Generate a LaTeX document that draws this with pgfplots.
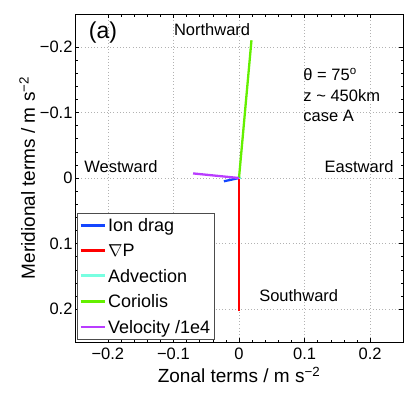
\documentclass[border=0pt]{standalone}
\usepackage{pgfplots}
\pgfplotsset{compat=1.18}
\usepackage{fontspec}
\setmainfont{Liberation Sans}
\definecolor{cIon}{RGB}{20,70,255}
\definecolor{cP}{RGB}{255,0,0}
\definecolor{cAdv}{RGB}{120,255,225}
\definecolor{cCor}{RGB}{100,240,0}
\definecolor{cVel}{RGB}{185,60,255}
\begin{document}
\begin{tikzpicture}
\useasboundingbox (-75pt,-50pt) rectangle (336pt,342pt);
\begin{axis}[
  at={(0pt,0pt)}, anchor=south west,
  scale only axis, width=328pt, height=328pt,
  xmin=-0.25, xmax=0.25, ymin=-0.25, ymax=0.25, y dir=reverse,
  xtick={-0.2,-0.1,0,0.1,0.2}, xticklabels={−0.2,−0.1,0,0.1,0.2},
  ytick={-0.2,-0.1,0,0.1,0.2}, yticklabels={−0.2,−0.1,0,0.1,0.2},
  minor tick num=4,
  grid=major, major grid style={dash pattern=on 1pt off 2.2pt, gray!60, line width=0.5pt},
  tick align=inside, tick style={black, line width=0.5pt},
  major tick length=4pt, minor tick length=2.5pt,
  axis line style={line width=0.7pt},
  ticklabel style={font=\fontsize{16.5}{18}\selectfont},
  yticklabel style={xshift=1pt},
  xticklabel style={yshift=-2pt},
  xlabel={Zonal terms / m s\textsuperscript{−2}},
  ylabel={Meridional terms / m s\textsuperscript{−2}},
  label style={font=\fontsize{19}{21}\selectfont},
  xlabel style={yshift=-1pt},
  ylabel style={yshift=-2pt},
  legend cell align=left,
  legend style={at={(rel axis cs:0.006,0.006)}, anchor=south west,
    font=\fontsize{18}{19}\selectfont, draw=black!70, line width=0.7pt,
    row sep=7pt, inner xsep=2pt, inner ysep=3pt},
  legend image code/.code={\draw[#1, line width=2.8pt] (0pt,0.5pt) -- (24pt,0.5pt);},
  every axis plot/.append style={line width=2.3pt},
]
\addplot[cIon] coordinates {(0,0) (-0.023,0.005)};
\addlegendentry{Ion drag}
\addplot[cP] coordinates {(0,0) (0,0.203)};
\addlegendentry{$\nabla$P}
\addplot[cAdv] coordinates {(0,0) (0.003,0.0)};
\addlegendentry{Advection}
\addplot[cCor] coordinates {(0,0) (0.019,-0.21)};
\addlegendentry{Coriolis}
\addplot[cVel] coordinates {(0,0) (-0.07,-0.007)};
\addlegendentry{Velocity /1e4}
\node[font=\fontsize{23}{25}\selectfont, anchor=west, inner sep=0pt] at (axis cs:-0.229,-0.222) {(a)};
\node[font=\fontsize{16.5}{18}\selectfont] at (axis cs:-0.041,-0.226) {Northward};
\node[font=\fontsize{16.5}{18}\selectfont] at (axis cs:-0.18,-0.018) {Westward};
\node[font=\fontsize{16.5}{18}\selectfont] at (axis cs:0.183,-0.018) {Eastward};
\node[font=\fontsize{16.5}{18}\selectfont] at (axis cs:0.091,0.18) {Southward};
\node[font=\fontsize{16.5}{18}\selectfont, anchor=west, inner sep=0pt] at (axis cs:0.098,-0.158) {θ = 75\textsuperscript{o}};
\node[font=\fontsize{16.5}{18}\selectfont, anchor=west, inner sep=0pt] at (axis cs:0.098,-0.126) {z \textasciitilde{} 450km};
\node[font=\fontsize{16.5}{18}\selectfont, anchor=west, inner sep=0pt] at (axis cs:0.098,-0.095) {case A};
\end{axis}
\end{tikzpicture}
\end{document}
